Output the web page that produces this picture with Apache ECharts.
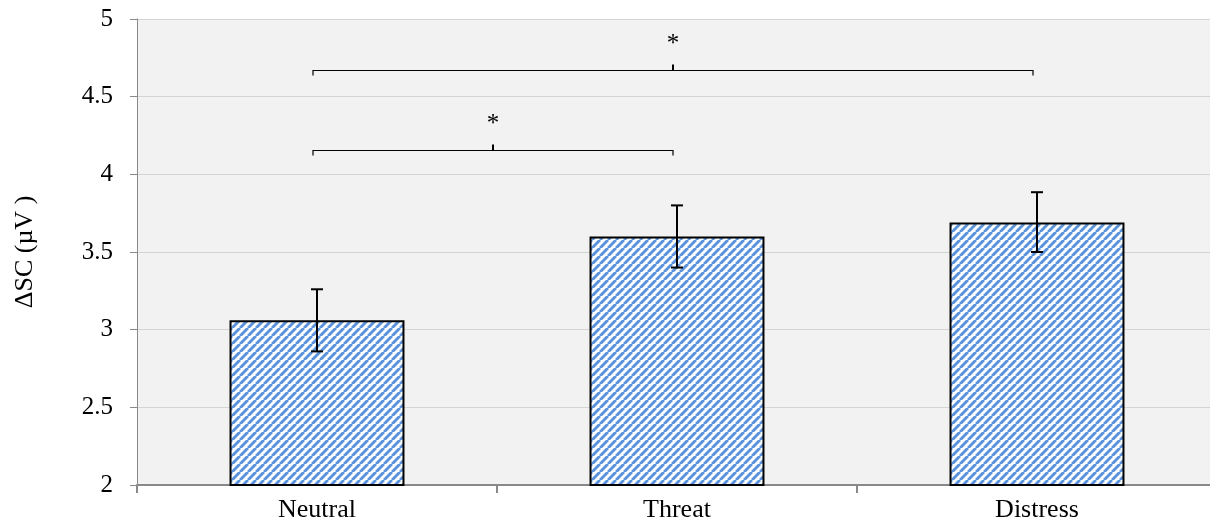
<!DOCTYPE html>
<html>
<head>
<meta charset="utf-8">
<script src="https://cdn.jsdelivr.net/npm/echarts@6/dist/echarts.min.js"></script>
<style>html,body{margin:0;padding:0;background:#fff;overflow:hidden;width:1210px;height:529px}#c{width:1217px;height:529px}</style>
</head>
<body>
<div id="c"></div>
<script>
const categories = ['Neutral', 'Threat', 'Distress'];
const means = [3.06, 3.60, 3.69];
const errLow = [2.86, 3.40, 3.50];
const errHigh = [3.26, 3.80, 3.885];
const yTicks = [2, 2.5, 3, 3.5, 4, 4.5, 5];
// brackets: [fromCategoryIndex, toCategoryIndex, yValue, label]
const brackets = [[0, 2, 4.67, '*'], [0, 1, 4.155, '*']];

const tile = document.createElement('canvas');
const S = 8;
tile.width = S; tile.height = S;
const tc = tile.getContext('2d');
tc.fillStyle = '#fbfdff';
tc.fillRect(0, 0, S, S);
tc.strokeStyle = '#5b92dc';
tc.lineWidth = 2.9;
for (let k = -1; k <= 1; k++) {
  tc.beginPath();
  tc.moveTo(k * S, S);
  tc.lineTo(k * S + S, 0);
  tc.stroke();
}

const font = "'Liberation Serif', 'Times New Roman', serif";
const chart = echarts.init(document.getElementById('c'), null, {renderer: 'canvas'});

const option = {
  animation: false,
  backgroundColor: '#ffffff',
  grid: {left: 137, right: 0, top: 19, bottom: 44, show: true, backgroundColor: '#f2f2f2', borderWidth: 0},
  xAxis: {
    type: 'category',
    data: categories,
    axisLine: {lineStyle: {color: '#898989', width: 2}},
    axisTick: {show: true, length: 8, lineStyle: {color: '#898989', width: 2}},
    axisLabel: {color: '#000', fontFamily: font, fontSize: 26, margin: 12},
    splitLine: {show: false}
  },
  yAxis: {
    type: 'value',
    min: yTicks[0], max: yTicks[yTicks.length - 1], interval: 0.5,
    name: 'ΔSC (µV )',
    nameLocation: 'middle',
    nameGap: 99,
    nameRotate: 90,
    nameTextStyle: {color: '#000', fontFamily: font, fontSize: 26},
    axisLine: {show: true, lineStyle: {color: '#898989', width: 1}},
    axisTick: {show: true, length: 7, lineStyle: {color: '#898989', width: 1}},
    axisLabel: {color: '#000', fontFamily: font, fontSize: 25, margin: 24, formatter: v => String(v)},
    splitLine: {lineStyle: {color: '#d4d4d4', width: 1}}
  },
  series: [
    {
      type: 'bar',
      data: means,
      barWidth: '48.6%',
      itemStyle: {color: {image: tile, repeat: 'repeat'}, borderColor: '#000', borderWidth: 2},
      z: 2
    },
    {
      type: 'custom',
      z: 5,
      data: categories.map((c, i) => [i, errLow[i], errHigh[i]]),
      renderItem: function (params, api) {
        const lo = api.coord([api.value(0), api.value(1)]);
        const hi = api.coord([api.value(0), api.value(2)]);
        const x = lo[0], w = 6;
        const st = {stroke: '#000', lineWidth: 2, fill: null};
        return {type: 'group', children: [
          {type: 'line', shape: {x1: x, y1: lo[1], x2: x, y2: hi[1]}, style: st},
          {type: 'line', shape: {x1: x - w, y1: lo[1], x2: x + w, y2: lo[1]}, style: st},
          {type: 'line', shape: {x1: x - w, y1: hi[1], x2: x + w, y2: hi[1]}, style: st}
        ]};
      }
    },
    {
      type: 'custom',
      z: 5,
      data: brackets.map(b => [b[0], b[1], b[2]]),
      renderItem: function (params, api) {
        const b = brackets[params.dataIndex];
        const p1 = api.coord([api.value(0), api.value(2)]);
        const p2 = api.coord([api.value(1), api.value(2)]);
        const x1 = p1[0] - 4, x2 = p2[0] - 4, y = Math.round(p1[1]) + 0.5;
        const xm = (x1 + x2) / 2;
        const st = {stroke: '#000', lineWidth: 1.2, fill: null};
        return {type: 'group', children: [
          {type: 'polyline', shape: {points: [[x1, y + 5], [x1, y], [x2, y], [x2, y + 5]]}, style: st},
          {type: 'line', shape: {x1: xm, y1: y, x2: xm, y2: y - 6}, style: {stroke: '#000', lineWidth: 2}},
          {type: 'text', style: {text: b[3], x: xm, y: y - 14, textAlign: 'center', textVerticalAlign: 'bottom', fontFamily: font, fontSize: 25, fill: '#000'}}
        ]};
      }
    }
  ]
};
chart.setOption(option);
</script>
</body>
</html>
